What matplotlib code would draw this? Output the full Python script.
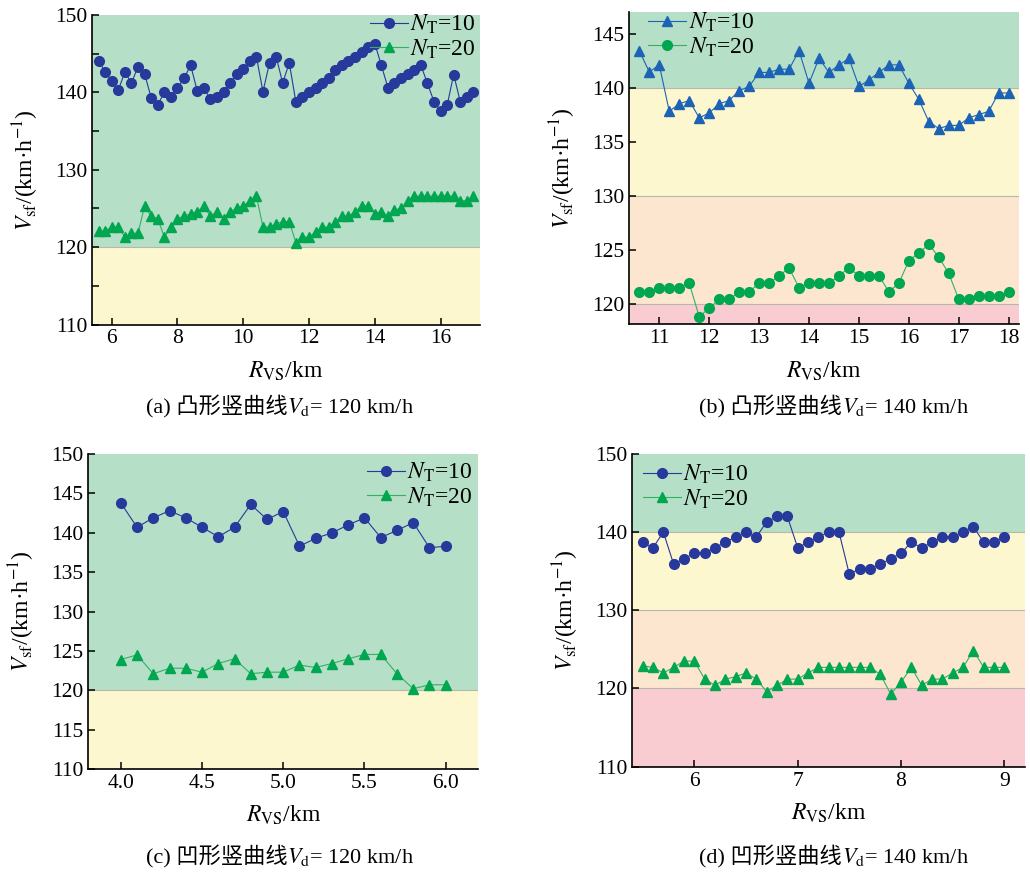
import numpy as np
import matplotlib
matplotlib.use('Agg')
import matplotlib.pyplot as plt
from matplotlib.ticker import MultipleLocator, FormatStrFormatter

plt.rcParams['font.family'] = ['Liberation Serif', 'Noto Sans CJK SC']
plt.rcParams['mathtext.fontset'] = 'stix'

# (a) convex, Vd = 120
xa = [5.6, 5.8, 6.0, 6.2, 6.4, 6.6, 6.8, 7.0, 7.2, 7.4, 7.6, 7.8, 8.0, 8.2, 8.4, 8.6,
      8.8, 9.0, 9.2, 9.4, 9.6, 9.8, 10.0, 10.2, 10.4, 10.6, 10.8, 11.0, 11.2, 11.4,
      11.6, 11.8, 12.0, 12.2, 12.4, 12.6, 12.8, 13.0, 13.2, 13.4, 13.6, 13.8, 14.0,
      14.2, 14.4, 14.6, 14.8, 15.0, 15.2, 15.4, 15.6, 15.8, 16.0, 16.2, 16.4, 16.6,
      16.8, 17.0]
ya10 = [144.1, 142.6, 141.5, 140.3, 142.6, 141.2, 143.3, 142.4, 139.3, 138.3,
        140.1, 139.4, 140.6, 141.8, 143.5, 140.2, 140.6, 139.1, 139.4, 140.1,
        141.2, 142.4, 143.0, 144.1, 144.6, 140.1, 143.8, 144.6, 141.2, 143.8,
        138.8, 139.4, 140.1, 140.6, 141.2, 141.8, 142.9, 143.5, 144.1, 144.6,
        145.2, 145.8, 146.3, 143.5, 140.6, 141.2, 141.8, 142.4, 142.9, 143.5,
        141.2, 138.8, 137.6, 138.3, 142.3, 138.8, 139.4, 140.0]
ya20 = [122.1, 122.1, 122.6, 122.6, 121.3, 121.8, 121.8, 125.3, 124.0, 123.7,
        121.3, 122.6, 123.7, 124.0, 124.3, 124.6, 125.3, 124.0, 124.6, 123.7,
        124.6, 125.0, 125.3, 126.0, 126.6, 122.6, 122.6, 123.0, 123.3, 123.3,
        120.6, 121.3, 121.3, 122.0, 122.6, 122.6, 123.3, 124.0, 124.0, 124.6,
        125.3, 125.3, 124.3, 124.6, 124.0, 124.8, 125.0, 126.0, 126.6, 126.6,
        126.6, 126.6, 126.6, 126.6, 126.6, 126.0, 126.0, 126.6]

# (b) convex, Vd = 140
xb = [10.6, 10.8, 11.0, 11.2, 11.4, 11.6, 11.8, 12.0, 12.2, 12.4, 12.6, 12.8, 13.0,
      13.2, 13.4, 13.6, 13.8, 14.0, 14.2, 14.4, 14.6, 14.8, 15.0, 15.2, 15.4, 15.6,
      15.8, 16.0, 16.2, 16.4, 16.6, 16.8, 17.0, 17.2, 17.4, 17.6, 17.8, 18.0]
yb10 = [143.4, 141.45, 142.1, 137.8, 138.5, 138.8, 137.2, 137.65, 138.5, 138.8,
        139.7, 140.1, 141.4, 141.4, 141.7, 141.7, 143.4, 140.4, 142.7, 141.4,
        142.1, 142.7, 140.1, 140.7, 141.4, 142.1, 142.1, 140.4, 138.9, 136.85,
        136.2, 136.5, 136.5, 137.2, 137.5, 137.8, 139.5, 139.5]
yb20 = [121.1, 121.1, 121.5, 121.5, 121.5, 121.9, 118.8, 119.6, 120.4, 120.4,
        121.1, 121.1, 121.9, 121.9, 122.6, 123.3, 121.5, 121.9, 121.9, 121.9,
        122.6, 123.3, 122.6, 122.6, 122.6, 121.1, 121.9, 124.0, 124.7, 125.5,
        124.3, 122.8, 120.4, 120.4, 120.7, 120.7, 120.7, 121.1]

# (c) concave, Vd = 120
xc = [4.0, 4.1, 4.2, 4.3, 4.4, 4.5, 4.6, 4.7, 4.8, 4.9, 5.0, 5.1, 5.2, 5.3, 5.4,
      5.5, 5.6, 5.7, 5.8, 5.9, 6.0]
yc10 = [143.8, 140.7, 141.9, 142.8, 141.9, 140.7, 139.5, 140.7, 143.6, 141.7,
        142.7, 138.3, 139.3, 140.0, 141.0, 141.9, 139.4, 140.3, 141.3, 138.1, 138.3]
yc20 = [123.9, 124.5, 122.1, 122.8, 122.8, 122.3, 123.4, 124.0, 122.1, 122.3,
        122.3, 123.2, 122.9, 123.4, 124.0, 124.55, 124.55, 122.1, 120.2, 120.7, 120.7]

# (d) concave, Vd = 140
xd = [5.5, 5.6, 5.7, 5.8, 5.9, 6.0, 6.1, 6.2, 6.3, 6.4, 6.5, 6.6, 6.7, 6.8, 6.9,
      7.0, 7.1, 7.2, 7.3, 7.4, 7.5, 7.6, 7.7, 7.8, 7.9, 8.0, 8.1, 8.2, 8.3, 8.4,
      8.5, 8.6, 8.7, 8.8, 8.9, 9.0]
yd10 = [138.7, 138.0, 140.0, 135.9, 136.6, 137.3, 137.3, 138.0, 138.7, 139.4,
        140.0, 139.4, 141.3, 142.0, 142.0, 138.0, 138.7, 139.4, 140.0, 140.0,
        134.6, 135.3, 135.3, 135.9, 136.6, 137.3, 138.7, 138.0, 138.7, 139.4,
        139.4, 140.0, 140.7, 138.7, 138.7, 139.4]
yd20 = [122.9, 122.7, 122.0, 122.7, 123.5, 123.5, 121.2, 120.4, 121.2, 121.5,
        122.0, 121.2, 119.6, 120.4, 121.2, 121.2, 122.0, 122.7, 122.7, 122.7,
        122.7, 122.7, 122.7, 121.8, 119.3, 120.8, 122.7, 120.4, 121.2, 121.2,
        122.0, 122.7, 124.85, 122.7, 122.7, 122.7]

cap_left = ['(a) 凸形竖曲线', '(b) 凸形竖曲线', '(c) 凹形竖曲线', '(d) 凹形竖曲线']
cap_right = ['$V_{\\rm d}$= 120 km/h', '$V_{\\rm d}$= 140 km/h',
             '$V_{\\rm d}$= 120 km/h', '$V_{\\rm d}$= 140 km/h']

GREEN_BG = '#b5dfc6'
YELLOW_BG = '#fdf7d0'
PEACH_BG = '#fce6d0'
PINK_BG = '#f8ccd0'
BLUE = '#27399b'
BLUE_TRI = '#1d63b5'
GREEN = '#00a650'
GREEN_LINE = '#33b064'

fig = plt.figure(figsize=(10.3, 8.75), dpi=100)

ax_a = fig.add_axes([0.0893, 0.629, 0.3767, 0.354])
ax_b = fig.add_axes([0.611, 0.6294, 0.378, 0.357])
ax_c = fig.add_axes([0.0857, 0.1211, 0.3786, 0.36])
ax_d = fig.add_axes([0.6139, 0.1238, 0.3813, 0.3574])


def bands(ax, edges, colors):
    for (lo, hi), c in zip(edges, colors):
        ax.axhspan(lo, hi, color=c, lw=0, zorder=0)
    for lo, hi in edges[1:]:
        ax.axhline(lo, color='#b8b8a8', lw=0.8, zorder=1)


def style(ax):
    for s in ['top', 'right']:
        ax.spines[s].set_visible(False)
    for s in ['left', 'bottom']:
        ax.spines[s].set_linewidth(1.2)
    ax.tick_params(which='both', direction='in', length=5, width=1.1, labelsize=15.5)
    ax.set_xlabel('$R_{\\rm VS}$/km', fontsize=17, labelpad=8)
    ax.set_ylabel('$V_{\\rm sf}$/(km·h$^{-1}$)', fontsize=17, labelpad=10)


lw = 0.8
ms = 7
# (a)
bands(ax_a, [(110, 120), (120, 150)], [YELLOW_BG, GREEN_BG])
ax_a.plot(xa, ya10, '-o', color=BLUE, mfc=BLUE, mec=BLUE, ms=ms, lw=lw, label='$N_{\\rm T}$=10', zorder=3)
ax_a.plot(xa, ya20, '-^', color=GREEN_LINE, mfc=GREEN, mec=GREEN, ms=ms, lw=lw, label='$N_{\\rm T}$=20', zorder=3)
ax_a.set_xlim(5.4, 17.2)
ax_a.set_ylim(110, 150)
ax_a.xaxis.set_major_locator(MultipleLocator(2))
ax_a.yaxis.set_major_locator(MultipleLocator(10))
ax_a.yaxis.set_minor_locator(MultipleLocator(5))

# (b)
bands(ax_b, [(118, 120), (120, 130), (130, 140), (140, 147)], [PINK_BG, PEACH_BG, YELLOW_BG, GREEN_BG])
ax_b.plot(xb, yb10, '-^', color=BLUE_TRI, mfc=BLUE_TRI, mec=BLUE_TRI, ms=ms, lw=lw, label='$N_{\\rm T}$=10', zorder=3)
ax_b.plot(xb, yb20, '-o', color=GREEN_LINE, mfc=GREEN, mec=GREEN, ms=ms, lw=lw, label='$N_{\\rm T}$=20', zorder=3)
ax_b.set_xlim(10.4, 18.2)
ax_b.set_ylim(118.1, 147)
ax_b.xaxis.set_major_locator(MultipleLocator(1))
ax_b.yaxis.set_major_locator(MultipleLocator(5))

# (c)
bands(ax_c, [(110, 120), (120, 150)], [YELLOW_BG, GREEN_BG])
ax_c.plot(xc, yc10, '-o', color=BLUE, mfc=BLUE, mec=BLUE, ms=ms, lw=lw, label='$N_{\\rm T}$=10', zorder=3)
ax_c.plot(xc, yc20, '-^', color=GREEN_LINE, mfc=GREEN, mec=GREEN, ms=ms, lw=lw, label='$N_{\\rm T}$=20', zorder=3)
ax_c.set_xlim(3.8, 6.2)
ax_c.set_ylim(110, 150)
ax_c.xaxis.set_major_locator(MultipleLocator(0.5))
ax_c.xaxis.set_major_formatter(FormatStrFormatter('%.1f'))
ax_c.yaxis.set_major_locator(MultipleLocator(5))

# (d)
bands(ax_d, [(110, 120), (120, 130), (130, 140), (140, 150)], [PINK_BG, PEACH_BG, YELLOW_BG, GREEN_BG])
ax_d.plot(xd, yd10, '-o', color=BLUE, mfc=BLUE, mec=BLUE, ms=ms, lw=lw, label='$N_{\\rm T}$=10', zorder=3)
ax_d.plot(xd, yd20, '-^', color=GREEN_LINE, mfc=GREEN, mec=GREEN, ms=ms, lw=lw, label='$N_{\\rm T}$=20', zorder=3)
ax_d.set_xlim(5.4, 9.2)
ax_d.set_ylim(110, 150)
ax_d.xaxis.set_major_locator(MultipleLocator(1))
ax_d.yaxis.set_major_locator(MultipleLocator(10))

leg_spec = [(ax_a, 'upper right', (0.995, 1.014)), (ax_b, 'upper left', (0.043, 1.01)),
            (ax_c, 'upper right', (0.992, 0.985)), (ax_d, 'upper left', (0.022, 0.979))]
for ax, loc, anchor in leg_spec:
    style(ax)
    ax.legend(loc=loc, bbox_to_anchor=anchor, frameon=False, fontsize=17, handlelength=1.6,
              handletextpad=0.1, labelspacing=0.05, borderaxespad=0.0, borderpad=0.1)

# captions: Chinese part as plain text, V_d part as mathtext
cap_pos = [(0.279, 0.528), (0.817, 0.528), (0.279, 0.0137), (0.817, 0.0137)]
for (cx, cy), left, right in zip(cap_pos, cap_left, cap_right):
    fig.text(cx, cy, left, ha='right', va='baseline', fontsize=16)
    fig.text(cx, cy, right, ha='left', va='baseline', fontsize=16)

fig.savefig('out.png', dpi=100)
